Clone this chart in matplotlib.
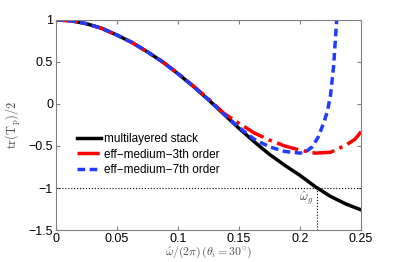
import matplotlib
matplotlib.use('Agg')
import matplotlib.pyplot as plt

plt.rcParams['font.family'] = ['Liberation Sans', 'DejaVu Sans']
plt.rcParams['mathtext.fontset'] = 'cm'

# multilayered stack
x_stack = [0, 0.0125, 0.025, 0.0375, 0.05, 0.0625, 0.075, 0.0875, 0.1, 0.1125,
           0.125, 0.1375, 0.15, 0.1625, 0.175, 0.1875, 0.2, 0.2125, 0.225, 0.2375, 0.25]
y_stack = [1.0, 0.99, 0.955, 0.90, 0.82, 0.73, 0.62, 0.50, 0.36, 0.21,
           0.05, -0.12, -0.29, -0.45, -0.60, -0.73, -0.85, -0.985, -1.10, -1.19, -1.26]

# effective medium, 3rd order
x_eff3 = [0, 0.0125, 0.025, 0.0375, 0.05, 0.0625, 0.075, 0.0875, 0.1, 0.1125,
          0.125, 0.1375, 0.15, 0.1625, 0.175, 0.1875, 0.2, 0.2125, 0.225, 0.2375, 0.245, 0.25]
y_eff3 = [1.0, 0.99, 0.955, 0.90, 0.82, 0.73, 0.62, 0.50, 0.365, 0.215,
          0.06, -0.11, -0.23, -0.345, -0.43, -0.50, -0.55, -0.585, -0.575, -0.49, -0.42, -0.33]

# effective medium, 7th order
x_eff7 = [0, 0.0125, 0.025, 0.0375, 0.05, 0.0625, 0.075, 0.0875, 0.1, 0.1125,
          0.125, 0.1375, 0.15, 0.1625, 0.175, 0.1875, 0.2, 0.205, 0.21, 0.215,
          0.22, 0.2225, 0.225, 0.2275, 0.23, 0.2325]
y_eff7 = [1.0, 0.99, 0.955, 0.90, 0.82, 0.73, 0.62, 0.50, 0.36, 0.21,
          0.05, -0.12, -0.28, -0.42, -0.51, -0.565, -0.585, -0.565, -0.51, -0.39,
          -0.2, -0.08, 0.11, 0.45, 1.0, 1.6]

omega_g = 0.214

fig = plt.figure(figsize=(3.99, 2.62), dpi=100)
ax = fig.add_axes([0.140, 0.122, 0.765, 0.802])

ax.plot(x_stack, y_stack, color='black', lw=2.5, label='multilayered stack')
ax.plot(x_eff3, y_eff3, color='red', lw=2.5, ls='-.', label='eff\u2212medium\u22123th order')
ax.plot(x_eff7, y_eff7, color='#1f3cff', lw=2.5, ls='--', dashes=(2.2, 1.3),
        label='eff\u2212medium\u22127th order')

ax.axhline(-1, color='black', lw=0.8, ls=':')
ax.plot([omega_g, omega_g], [-1.5, -1], color='black', lw=0.8, ls=':')
ax.text(omega_g - 0.003, -1.12, r'$\hat{\omega}_g$', ha='right', va='center',
        fontsize=9, color='0.3')

ax.set_xlim(0, 0.25)
ax.set_ylim(-1.5, 1)
ax.set_xticks([0, 0.05, 0.1, 0.15, 0.2, 0.25])
ax.set_xticklabels(['0', '0.05', '0.1', '0.15', '0.2', '0.25'])
ax.set_yticks([-1.5, -1, -0.5, 0, 0.5, 1])
ax.set_yticklabels(['\u22121.5', '\u22121', '\u22120.5', '0', '0.5', '1'])
ax.tick_params(direction='in', top=True, right=True, labelsize=9, length=3,
               color='0.5', pad=2)
for s in ax.spines.values():
    s.set_color('0.5')
    s.set_linewidth(0.8)

ax.set_xlabel(r'$\hat{\omega}/(2\pi)\,(\theta_i = 30^{\circ})$', fontsize=8.5, color='0.3', labelpad=0)
ax.set_ylabel(r'$\mathrm{tr}(\mathrm{T_p})/2$', fontsize=9, color='0.3', labelpad=4)

ax.legend(loc='upper left', bbox_to_anchor=(0.05, 0.49), frameon=False, fontsize=8.5,
          handlelength=2.0, handletextpad=0.3, labelspacing=0.3, borderpad=0)

fig.savefig('out.png', dpi=100)
